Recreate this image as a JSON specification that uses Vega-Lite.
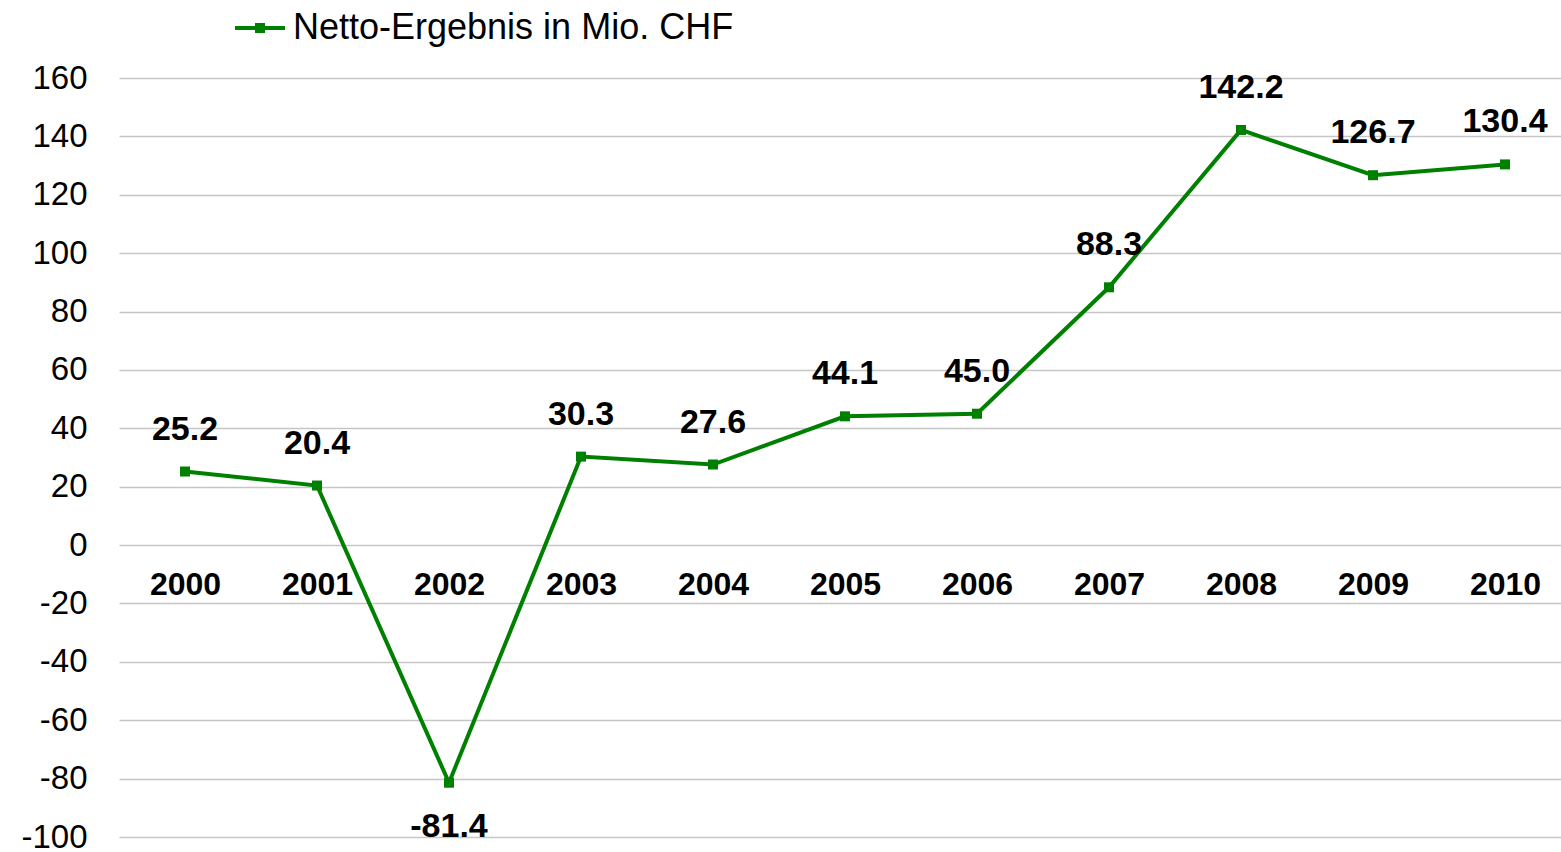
{
  "$schema": "https://vega.github.io/schema/vega-lite/v6.json",
  "width": 1452,
  "height": 759,
  "autosize": {"type": "none"},
  "padding": {"left": 119, "top": 78, "right": 0, "bottom": 15},
  "background": "white",
  "config": {
    "view": {"stroke": null},
    "font": "Liberation Sans",
    "locale": {
      "number": {"decimal": ".", "thousands": ",", "grouping": [3], "currency": ["", ""], "minus": "-"}
    }
  },
  "data": {
    "values": [
      {"year": "2000", "value": 25.2, "series": "Netto-Ergebnis in Mio. CHF"},
      {"year": "2001", "value": 20.4, "series": "Netto-Ergebnis in Mio. CHF"},
      {"year": "2002", "value": -81.4, "series": "Netto-Ergebnis in Mio. CHF"},
      {"year": "2003", "value": 30.3, "series": "Netto-Ergebnis in Mio. CHF"},
      {"year": "2004", "value": 27.6, "series": "Netto-Ergebnis in Mio. CHF"},
      {"year": "2005", "value": 44.1, "series": "Netto-Ergebnis in Mio. CHF"},
      {"year": "2006", "value": 45.0, "series": "Netto-Ergebnis in Mio. CHF"},
      {"year": "2007", "value": 88.3, "series": "Netto-Ergebnis in Mio. CHF"},
      {"year": "2008", "value": 142.2, "series": "Netto-Ergebnis in Mio. CHF"},
      {"year": "2009", "value": 126.7, "series": "Netto-Ergebnis in Mio. CHF"},
      {"year": "2010", "value": 130.4, "series": "Netto-Ergebnis in Mio. CHF"}
    ]
  },
  "encoding": {
    "x": {
      "field": "year",
      "type": "ordinal",
      "scale": {"type": "point", "padding": 0.5},
      "axis": {
        "title": null,
        "orient": "bottom",
        "offset": -292,
        "domain": false,
        "ticks": false,
        "grid": false,
        "labelAngle": 0,
        "labelFont": "Liberation Sans",
        "labelFontSize": 32,
        "labelFontWeight": "bold",
        "labelColor": "black",
        "labelPadding": 24
      }
    },
    "y": {
      "field": "value",
      "type": "quantitative",
      "scale": {"domain": [-100, 160], "nice": false, "zero": false},
      "axis": {
        "title": null,
        "values": [-100, -80, -60, -40, -20, 0, 20, 40, 60, 80, 100, 120, 140, 160],
        "format": "d",
        "domain": false,
        "ticks": false,
        "grid": true,
        "gridColor": "#c6c6c6",
        "gridWidth": 1.5,
        "labelFont": "Liberation Sans",
        "labelFontSize": 33,
        "labelColor": "black",
        "labelPadding": 32
      }
    }
  },
  "layer": [
    {
      "mark": {"type": "line", "strokeWidth": 4},
      "encoding": {
        "color": {
          "field": "series",
          "type": "nominal",
          "scale": {"range": ["#008000"]},
          "legend": {
            "title": null,
            "orient": "none",
            "legendX": 116,
            "legendY": -75,
            "padding": 0,
            "symbolType": "M-1,-0.08L1,-0.08L1,0.08L-1,0.08Z M-0.2,-0.2L0.2,-0.2L0.2,0.2L-0.2,0.2Z",
            "symbolSize": 2500,
            "symbolStrokeWidth": 0,
            "symbolFillColor": "#008000",
            "labelFont": "Liberation Sans",
            "labelFontSize": 36,
            "labelColor": "black",
            "labelOffset": 8,
            "labelLimit": 1000,
            "encode": {
              "symbols": {"update": {"fill": {"value": "#008000"}, "strokeWidth": {"value": 0}}}
            }
          }
        }
      }
    },
    {
      "mark": {"type": "point", "shape": "square", "filled": true, "size": 100, "color": "#008000", "opacity": 1}
    },
    {
      "transform": [{"filter": "datum.value >= 0"}],
      "mark": {"type": "text", "font": "Liberation Sans", "fontSize": 34, "fontWeight": "bold", "color": "black", "dy": -42, "baseline": "middle", "align": "center"},
      "encoding": {"text": {"field": "value", "type": "quantitative", "format": ".1f"}}
    },
    {
      "transform": [{"filter": "datum.value < 0"}],
      "mark": {"type": "text", "font": "Liberation Sans", "fontSize": 34, "fontWeight": "bold", "color": "black", "dy": 44, "baseline": "middle", "align": "center"},
      "encoding": {"text": {"field": "value", "type": "quantitative", "format": ".1f"}}
    }
  ]
}
